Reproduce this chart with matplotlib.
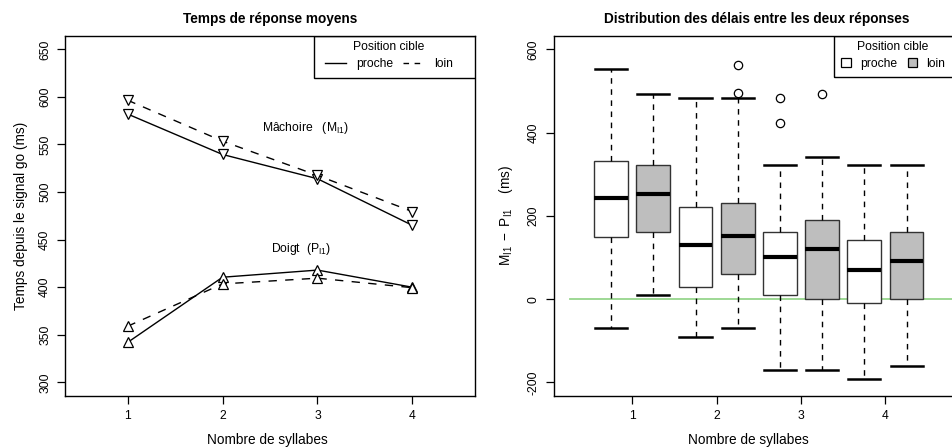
import matplotlib
matplotlib.use("Agg")
import matplotlib.pyplot as plt
from matplotlib.patches import Patch, Rectangle
from matplotlib.lines import Line2D

plt.rcParams['font.family'] = ['Liberation Sans', 'DejaVu Sans']
plt.rcParams['mathtext.fontset'] = 'custom'
plt.rcParams['mathtext.rm'] = 'Liberation Sans'
plt.rcParams['mathtext.it'] = 'Liberation Sans'

# --- data -----------------------------------------------------------------
syllabes = [1, 2, 3, 4]
machoire_proche = [582, 539.5, 514, 465]
machoire_loin = [596.5, 553.5, 517.5, 479.5]
doigt_proche = [342, 410.5, 418, 400]
doigt_loin = [359, 403.5, 409.5, 399.5]

# boxplot stats per syllable count (proche, loin)
whislo_proche = [-70, -90, -170, -191]
q1_proche = [150, 30, 10, -10]
med_proche = [242, 130, 101, 71]
q3_proche = [332, 221, 161, 141]
whishi_proche = [552, 482, 322, 322]
fliers_proche = [[], [], [422, 482], []]

whislo_loin = [10, -70, -170, -161]
q1_loin = [161, 60, 0, 0]
med_loin = [252, 151, 121, 91]
q3_loin = [322, 231, 190, 161]
whishi_loin = [492, 482, 341, 322]
fliers_loin = [[], [494, 563], [492], []]

conditions = ["proche", "loin"]
couleurs = ["white", "#bebebe"]

fs_tick = 8.75
fs_lab = 9.8

fig = plt.figure(figsize=(9.52, 4.47), dpi=100)

def style_axes(ax):
	for s in ax.spines.values():
		s.set_linewidth(1.0)
	ax.tick_params(direction="out", length=6, width=0.9, labelsize=fs_tick, pad=4)
	for t in ax.get_yticklabels():
		t.set_rotation(90)
		t.set_va("center")

def legend_box(ax, x0, y0):
	# R-style legend frame running out to the plot border
	ax.add_patch(Rectangle((x0, y0), 1.2, 1 - y0, transform=ax.transAxes, fill=False,
		edgecolor="black", linewidth=1.0, clip_on=True, zorder=5))

# --- left: mean response times --------------------------------------------
ax1 = fig.add_axes([65/952, 1-395.7/447, 410/952, 359.7/447])
ax1.plot(syllabes, machoire_proche, "k-", marker="v", mfc="white", ms=7, mew=0.9, lw=1)
ax1.plot(syllabes, machoire_loin, "k--", marker="v", mfc="white", ms=7, mew=0.9, lw=1, dashes=(6, 6))
ax1.plot(syllabes, doigt_proche, "k-", marker="^", mfc="white", ms=7, mew=0.9, lw=1)
ax1.plot(syllabes, doigt_loin, "k--", marker="^", mfc="white", ms=7, mew=0.9, lw=1, dashes=(6, 6))
ax1.text(2.87, 567, r"Mâchoire   ($\mathregular{M_{I1}}$)", ha="center", va="center", fontsize=8.75)
ax1.text(2.83, 440, r"Doigt  ($\mathregular{P_{I1}}$)", ha="center", va="center", fontsize=8.75)
ax1.set_xlim(0.34, 4.66)
ax1.set_ylim(286, 664)
ax1.set_xticks(syllabes)
ax1.set_yticks([300, 350, 400, 450, 500, 550, 600, 650])
style_axes(ax1)
ax1.set_title("Temps de réponse moyens", fontsize=fs_lab, fontweight="bold", pad=9)
ax1.set_xlabel("Nombre de syllabes", fontsize=fs_lab)
ax1.xaxis.set_label_coords((267.3 - 65) / 410, -0.105)
ax1.set_ylabel("Temps depuis le signal go (ms)", fontsize=fs_lab, labelpad=8)

handles = [Line2D([], [], color="k", lw=1), Line2D([], [], color="k", lw=1, ls="--", dashes=(4, 4))]
leg = ax1.legend(handles, conditions, title="Position cible", ncol=2,
	loc="upper left", bbox_to_anchor=((320 - 65) / 410, 1.0), frameon=False,
	borderaxespad=0, fontsize=8.75, title_fontsize=8.75,
	handlelength=1.65, handletextpad=0.9, columnspacing=0.75,
	borderpad=0.45, labelspacing=0.4)
legend_box(ax1, (314 - 65) / 410, (395.7 - 78) / 359.7)

# --- right: distribution of delays ----------------------------------------
ax2 = fig.add_axes([553.7/952, 1-395.7/447, 410.3/952, 359.7/447])
ax2.plot([0.26, 5.0], [0, 0], color="#96d68c", lw=1.3, zorder=1)

stats = []
positions = []
colors = []
for i, s in enumerate(syllabes):
	stats.append(dict(whislo=whislo_proche[i], q1=q1_proche[i], med=med_proche[i],
		q3=q3_proche[i], whishi=whishi_proche[i], fliers=fliers_proche[i]))
	positions.append(s - 0.25)
	colors.append(couleurs[0])
	stats.append(dict(whislo=whislo_loin[i], q1=q1_loin[i], med=med_loin[i],
		q3=q3_loin[i], whishi=whishi_loin[i], fliers=fliers_loin[i]))
	positions.append(s + 0.25)
	colors.append(couleurs[1])

bp = ax2.bxp(stats, positions=positions, widths=0.4, patch_artist=True, manage_ticks=False,
	boxprops=dict(edgecolor="#333333", linewidth=1.0),
	medianprops=dict(color="black", linewidth=3),
	whiskerprops=dict(color="black", linewidth=1, linestyle=(0, (4, 4))),
	capprops=dict(color="black", linewidth=1.8),
	capwidths=0.38,
	flierprops=dict(marker="o", mfc="none", mec="black", ms=6, mew=0.9))
for patch, c in zip(bp["boxes"], colors):
	patch.set_facecolor(c)
	patch.set_zorder(2)

ax2.set_xlim(0.07, 4.93)
ax2.set_ylim(-232, 632)
ax2.set_xticks(syllabes)
ax2.set_yticks([-200, 0, 200, 400, 600])
ax2.set_yticklabels(["-200", "0", "200", "400", "600"])
style_axes(ax2)
ax2.set_title("Distribution des délais entre les deux réponses", fontsize=fs_lab,
	fontweight="bold", pad=9, x=(757 - 553.7) / 410.3)
ax2.set_xlabel("Nombre de syllabes", fontsize=fs_lab)
ax2.xaxis.set_label_coords((748 - 553.7) / 410.3, -0.105)
ax2.set_ylabel(r"$\mathregular{M_{I1}\ -\ P_{I1}}$    (ms)", fontsize=fs_lab, labelpad=9)

handles2 = [Patch(facecolor=c, edgecolor="black", linewidth=0.9) for c in couleurs]
leg2 = ax2.legend(handles2, conditions, title="Position cible", ncol=2,
	loc="upper left", bbox_to_anchor=((836 - 553.7) / 410.3, 1.0), frameon=False,
	borderaxespad=0, fontsize=8.75, title_fontsize=8.75,
	handlelength=0.8, handleheight=0.8, handletextpad=0.75,
	columnspacing=0.9, borderpad=0.4, labelspacing=0.4)
legend_box(ax2, (834 - 553.7) / 410.3, (395.7 - 77) / 359.7)

fig.savefig("out.png", dpi=100)
